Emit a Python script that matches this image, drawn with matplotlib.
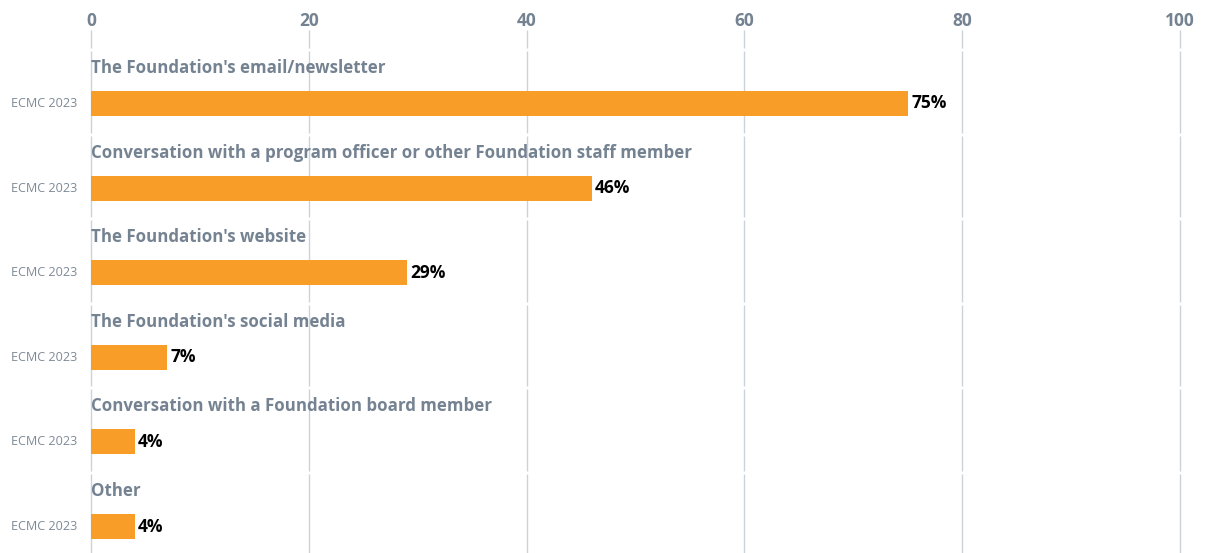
import matplotlib
matplotlib.use("Agg")
import matplotlib.pyplot as plt
import numpy as np

categories = [
    "The Foundation's email/newsletter",
    "Conversation with a program officer or other Foundation staff member",
    "The Foundation's website",
    "The Foundation's social media",
    "Conversation with a Foundation board member",
    "Other",
]
series_label = "ECMC 2023"
values = [75, 46, 29, 7, 4, 4]
xticks = [0, 20, 40, 60, 80, 100]

BAR = "#F89D27"
GREY = "#748291"
LIGHT = "#7E8A97"
GRID = "#CBD2D9"
FONT = "Open Sans"

W, H = 1205, 553
fig = plt.figure(figsize=(W / 100, H / 100), dpi=100)
top_px, bot_px = 30, 553
ax = fig.add_axes([91 / W, 1 - bot_px / H, (1180 - 91) / W, (bot_px - top_px) / H])

step = 84.6
first = 103.5
y0 = -(first - top_px) / step
y1 = (bot_px - first) / step
ax.set_xlim(0, 100)
ax.set_ylim(y1, y0)

n = len(categories)
ys = np.arange(n)
ax.barh(ys, values, height=25 / step, color=BAR, zorder=3)

# segmented gridlines (gaps between panels)
gap = 3 / step
bounds = [y0] + [i - 0.655 for i in range(n)] + [y1]
for x in xticks:
    for a, b in zip(bounds[:-1], bounds[1:]):
        ax.plot([x, x], [a + (gap if a != y0 else 0), b], color=GRID, lw=1, zorder=1,
                solid_capstyle="butt", clip_on=False)

for i, (c, v) in enumerate(zip(categories, values)):
    ax.text(0, i - 35.5 / step, c, ha="left", va="center", fontsize=12.2,
            fontweight="bold", color=GREY, family=FONT)
    ax.text(v + 0.3, i, f"{v}%", ha="left", va="center", fontsize=12.5,
            fontweight="bold", color="black", family=FONT)
    ax.text(-1.3, i, series_label, ha="right", va="center", fontsize=9.1,
            color=LIGHT, family=FONT)

ax.set_xticks(xticks)
ax.xaxis.tick_top()
ax.set_xticklabels([str(t) for t in xticks], fontsize=12.5, fontweight="bold",
                   color=GREY, family=FONT)
ax.tick_params(axis="x", length=0, pad=0)
ax.set_yticks([])
for s in ax.spines.values():
    s.set_visible(False)

fig.savefig("out.png", dpi=100)
